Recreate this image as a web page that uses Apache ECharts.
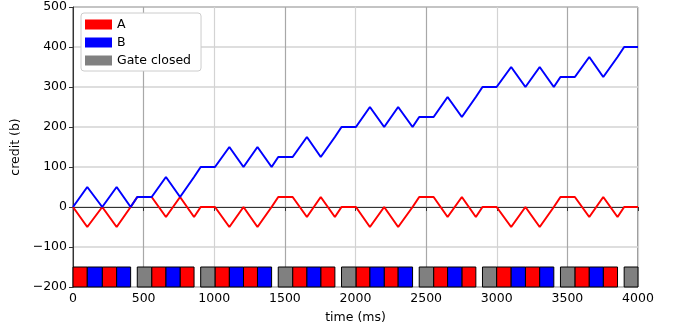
<!DOCTYPE html>
<html>
<head>
<meta charset="utf-8">
<script src="https://cdn.jsdelivr.net/npm/echarts@6/dist/echarts.min.js"></script>
<style>
  html, body { margin: 0; padding: 0; background: #fff; }
  #chart { width: 676px; height: 333px; }
</style>
</head>
<body>
<div id="chart"></div>
<script>
// sample times (ms) and credit of each station
var times = [0, 101, 207, 309, 408, 455, 557, 658, 758, 857, 904, 1005, 1107, 1207, 1306, 1406,
  1453, 1555, 1656, 1754, 1854, 1901, 2003, 2102, 2203, 2302, 2404, 2451, 2553, 2652, 2753, 2852,
  2899, 2999, 3102, 3203, 3304, 3404, 3451, 3553, 3655, 3754, 3855, 3902, 4000];
var creditA = [0, -50, 0, -50, 0, 25, 25, -25, 25, -25, 0, 0, -50, 0, -50, 0,
  25, 25, -25, 25, -25, 0, 0, -50, 0, -50, 0, 25, 25, -25, 25, -25,
  0, 0, -50, 0, -50, 0, 25, 25, -25, 25, -25, 0, 0];
var creditB = [0, 50, 0, 50, 0, 25, 25, 75, 25, 75, 100, 100, 150, 100, 150, 100,
  125, 125, 175, 125, 175, 200, 200, 250, 200, 250, 200, 225, 225, 275, 225, 275,
  300, 300, 350, 300, 350, 300, 325, 325, 375, 325, 375, 400, 400];

// transmission slots [start, end]
var slotsA = [[0, 101], [207, 309], [557, 658], [758, 857], [1005, 1107], [1207, 1306],
  [1555, 1656], [1754, 1854], [2003, 2102], [2203, 2302], [2553, 2652], [2753, 2852],
  [2999, 3102], [3203, 3304], [3553, 3655], [3754, 3855]];
var slotsB = [[101, 207], [309, 408], [658, 758], [1107, 1207], [1306, 1406], [1656, 1754],
  [2102, 2203], [2302, 2404], [2652, 2753], [3102, 3203], [3304, 3404], [3655, 3754]];
var gateClosed = [[455, 557], [904, 1005], [1453, 1555], [1901, 2003], [2451, 2553],
  [2899, 2999], [3451, 3553], [3902, 4000]];
var barLow = -200, barHigh = -150;

var FONT = 'DejaVu Sans';

function pairs(ys) {
  return times.map(function (t, i) { return [t, ys[i]]; });
}

function slotSeries(name, slots, color) {
  return {
    name: name,
    type: 'custom',
    data: slots,
    encode: { x: [0, 1] },
    renderItem: function (params, api) {
      var p0 = api.coord([api.value(0), barHigh]);
      var p1 = api.coord([api.value(1), barLow]);
      return {
        type: 'rect',
        shape: { x: p0[0], y: p0[1], width: p1[0] - p0[0], height: p1[1] - p0[1] },
        style: { fill: color, stroke: '#000', lineWidth: 1 }
      };
    },
    z: 3
  };
}

var chart = echarts.init(document.getElementById('chart'));
chart.setOption({
  animation: false,
  textStyle: { fontFamily: FONT },
  grid: {
    left: 73, right: 38, top: 7, bottom: 46,
    show: true, borderColor: '#333', borderWidth: 1
  },
  legend: {
    orient: 'vertical',
    left: 81, top: 13,
    padding: [5, 10, 4, 4],
    itemGap: 5,
    itemWidth: 27, itemHeight: 10,
    backgroundColor: '#fff',
    borderColor: '#ccc', borderWidth: 1, borderRadius: 3,
    textStyle: { fontFamily: FONT, fontSize: 12.5, color: '#000' },
    data: [
      { name: 'A', icon: 'rect', itemStyle: { color: '#ff0000' } },
      { name: 'B', icon: 'rect', itemStyle: { color: '#0000ff' } },
      { name: 'Gate closed', icon: 'rect', itemStyle: { color: '#808080' } }
    ]
  },
  xAxis: {
    type: 'value',
    min: 0, max: 4000, interval: 500,
    name: 'time (ms)', nameLocation: 'middle', nameGap: 24,
    nameTextStyle: { fontFamily: FONT, fontSize: 12.5, color: '#000' },
    axisLine: { lineStyle: { color: '#333' } },
    axisTick: { lineStyle: { color: '#333' }, length: 4 },
    axisLabel: {
      fontFamily: FONT, fontSize: 12.5, color: '#000', margin: 5,
      formatter: function (v) { return String(v); }
    },
    splitLine: { show: true, lineStyle: { color: ['#d3d3d3', '#a8a8a8'], width: 1.2 } }
  },
  yAxis: {
    type: 'value',
    min: -200, max: 500, interval: 100,
    name: 'credit (b)', nameLocation: 'middle', nameGap: 47, nameRotate: 90,
    nameTextStyle: { fontFamily: FONT, fontSize: 12.5, color: '#000' },
    axisLine: { show: true, lineStyle: { color: '#333' } },
    axisTick: { show: true, lineStyle: { color: '#333' }, length: 4 },
    axisLabel: {
      fontFamily: FONT, fontSize: 12.5, color: '#000', margin: 6,
      formatter: function (v) { return String(v).replace('-', '\u2212'); }
    },
    splitLine: { show: true, lineStyle: { color: '#d3d3d3', width: 1.5 } }
  },
  series: [
    {
      name: 'A', type: 'line', data: pairs(creditA), showSymbol: false,
      lineStyle: { color: '#ff0000', width: 2 }, itemStyle: { color: '#ff0000' }, z: 4
    },
    {
      name: 'B', type: 'line', data: pairs(creditB), showSymbol: false,
      lineStyle: { color: '#0000ff', width: 2 }, itemStyle: { color: '#0000ff' }, z: 5
    },
    slotSeries('A', slotsA, '#ff0000'),
    slotSeries('B', slotsB, '#0000ff'),
    slotSeries('Gate closed', gateClosed, '#808080')
  ]
});
</script>
</body>
</html>
